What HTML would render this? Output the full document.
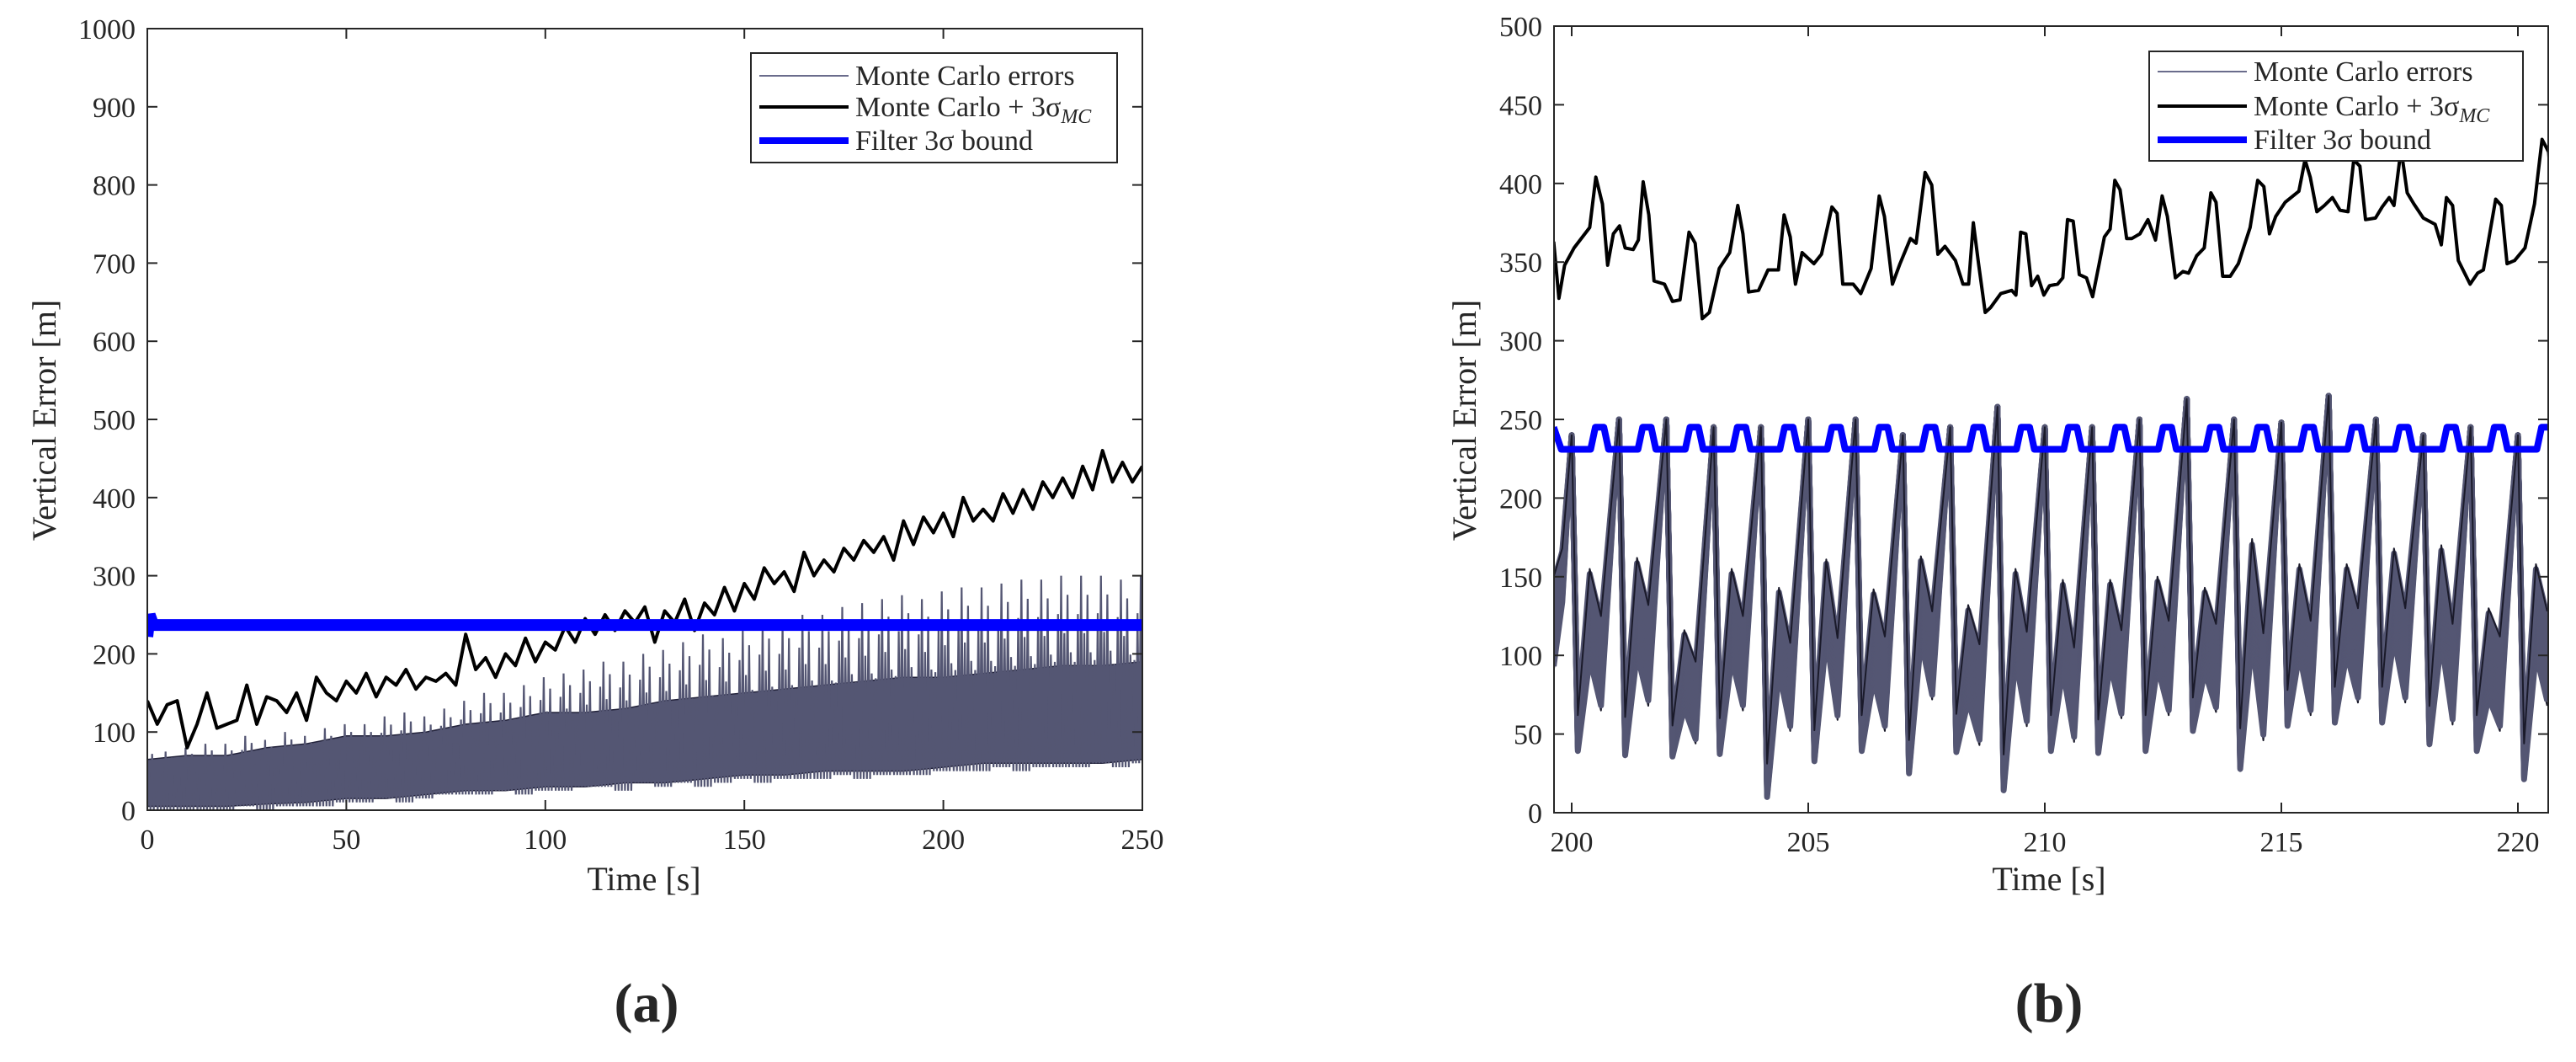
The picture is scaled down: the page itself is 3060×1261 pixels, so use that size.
<!DOCTYPE html>
<html><head><meta charset="utf-8">
<style>
html,body{margin:0;padding:0;background:#fff;}
svg{display:block;}
text{font-family:"Liberation Serif",serif;fill:#262626;}
</style></head>
<body>
<svg id="fig" width="3060" height="1261" viewBox="0 0 3060 1261" xmlns="http://www.w3.org/2000/svg">
<g id="pa"></g>
<g id="pb"></g>
<text x="768" y="1213" font-size="66" font-weight="bold" text-anchor="middle">(a)</text>
<text x="2434" y="1213" font-size="66" font-weight="bold" text-anchor="middle">(b)</text>
</svg>
<script>
// ---------- Panel A data ----------
const aTicksX = [0,50,100,150,200,250];
const aTicksY = [0,100,200,300,400,500,600,700,800,900,1000];
const aBlackT = [0,2.5,5,7.5,10,12.5,15,17.5,20,22.5,25,27.5,30,32.5,35,37.5,40,42.5,45,47.5,50,52.5,55,57.5,60,62.5,65,67.5,70,72.5,75,77.5,80,82.5,85,87.5,90,92.5,95,97.5,100,102.5,105,107.5,110,112.5,115,117.5,120,122.5,125,127.5,130,132.5,135,137.5,140,142.5,145,147.5,150,152.5,155,157.5,160,162.5,165,167.5,170,172.5,175,177.5,180,182.5,185,187.5,190,192.5,195,197.5,200,202.5,205,207.5,210,212.5,215,217.5,220,222.5,225,227.5,230,232.5,235,237.5,240,242.5,245,247.5,250];
const aBlackV = [140,110,135,140,80,110,150,105,110,115,160,110,145,140,125,150,115,170,150,140,165,150,175,145,170,160,180,155,170,165,175,160,225,180,195,170,200,185,220,190,215,205,235,215,245,225,250,230,255,240,260,215,255,240,270,230,265,250,285,255,290,270,310,290,305,280,330,300,320,305,335,320,345,330,350,320,370,340,375,355,380,350,400,370,385,370,405,380,410,385,420,400,425,400,440,410,460,420,445,420,440];
const aBandT = [0,10,20,30,40,50,60,70,80,90,100,110,120,130,140,150,160,170,180,190,200,210,220,230,240,250];
const aBandLow = [5,5,5,8,10,15,15,20,25,25,30,30,35,35,40,45,45,50,50,50,55,60,60,60,60,65];
const aBandHigh = [65,70,70,80,85,95,95,100,110,115,125,125,130,140,145,150,155,160,165,170,170,175,180,185,185,190];
const aSpikeT = [0,5,10,15,20,25,30,35,40,45,50,55,60,65,70,75,80,85,90,95,100,105,110,115,120,125,130,135,140,145,150,155,160,165,170,175,180,185,190,195,200,205,210,215,220,225,230,235,240,245,250];
const aSpikeV = [80,75,80,85,85,95,90,100,95,105,110,110,120,125,120,130,140,150,150,160,170,175,180,190,190,200,205,215,225,220,230,240,240,250,250,260,265,270,275,270,280,285,285,290,295,295,300,300,300,295,300];
const aDipV = [0,0,0,0,0,5,0,5,5,5,10,10,15,10,15,20,20,20,25,20,25,25,30,30,25,35,30,35,30,35,40,35,40,40,40,45,40,45,45,45,50,50,50,55,50,55,55,55,60,55,60];
const aBlueT = [0,0.6,1.5,250];
const aBlueV = [222,250,237,237];

// ---------- Panel B data ----------
const bTicksX = [200,205,210,215,220];
const bTicksY = [0,50,100,150,200,250,300,350,400,450,500];
const bBlackT = [199.62,199.73,199.85,200.05,200.38,200.51,200.65,200.76,200.88,201.01,201.13,201.30,201.41,201.51,201.63,201.74,201.96,202.13,202.29,202.48,202.61,202.76,202.91,203.12,203.34,203.51,203.62,203.74,203.95,204.15,204.37,204.49,204.62,204.73,204.87,205.12,205.28,205.50,205.61,205.73,205.95,206.11,206.33,206.50,206.61,206.78,206.94,207.16,207.28,207.47,207.61,207.74,207.89,208.11,208.27,208.39,208.49,208.60,208.74,208.85,209.07,209.30,209.39,209.49,209.60,209.72,209.85,209.98,210.10,210.27,210.38,210.48,210.60,210.73,210.88,211.01,211.15,211.26,211.38,211.48,211.59,211.73,211.84,212.01,212.18,212.34,212.48,212.59,212.76,212.92,213.04,213.21,213.37,213.51,213.62,213.76,213.92,214.09,214.34,214.50,214.63,214.75,214.88,215.08,215.37,215.50,215.61,215.75,215.91,216.08,216.24,216.41,216.53,216.66,216.78,216.99,217.13,217.28,217.38,217.53,217.66,217.80,218.00,218.25,218.38,218.49,218.62,218.74,218.99,219.15,219.27,219.53,219.65,219.77,219.93,220.15,220.35,220.51,220.65,220.70];
const bBlackV = [363,327,348,359,372,404,387,348,368,373,359,358,364,401,380,338,336,325,326,369,362,314,318,346,356,386,368,331,332,345,345,380,366,336,356,349,355,385,381,336,336,330,346,392,379,336,349,365,362,407,399,355,360,351,336,336,375,349,318,321,330,332,329,369,368,335,341,329,335,336,340,377,376,342,340,328,349,366,371,402,396,365,365,368,377,364,392,379,340,344,343,354,359,394,388,341,341,349,372,402,398,368,379,388,395,415,404,382,386,391,383,382,415,411,377,378,385,391,386,422,394,387,378,374,361,391,386,351,336,343,345,390,386,349,351,359,387,428,420,400];
const bBumpC = [200.6,201.6,202.6,203.6,204.6,205.6,206.6,207.6,208.6,209.6,210.6,211.6,212.6,213.6,214.6,215.6,216.6,217.6,218.6,219.6,220.6];
const bBlueBase = 231;
const bBluePeak = 245;
const bSpikeT = [200,201,202,203,204,205,206,207,208,209,210,211,212,213,214,215,216,217,218,219,220];
const bSpikeV = [240,250,250,245,245,250,250,240,245,258,245,245,250,263,250,248,265,250,240,245,240];
const bLowV = [50,48,45,48,20,42,50,35,50,25,50,48,50,62,40,66,68,68,55,50,32];
const bHighV = [125,130,90,125,115,135,112,135,100,125,118,120,120,115,140,128,128,138,138,100,128];
const bDipV = [95,100,70,95,80,85,82,100,75,85,75,88,92,92,80,92,100,100,88,82,98];
const bSpread = [30,32,26,30,28,26,30,28,32,30,30,28,30,28,34,30,30,30,32,30,30];

const NS = 'http://www.w3.org/2000/svg';
function mk(parent, tag, attrs){
  const e = document.createElementNS(NS, tag);
  for (const k in attrs) e.setAttribute(k, attrs[k]);
  parent.appendChild(e);
  return e;
}
function pts(T, V, sx, sy){ return T.map((t,i)=>sx(t).toFixed(1)+','+sy(V[i]).toFixed(1)).join(' '); }

function axes(g, L, R, T, B, sx, sy, xt, yt, name){
  const box = mk(g,'rect',{x:L,y:T,width:R-L,height:B-T,fill:'none',stroke:'#262626','stroke-width':2});
  
  
  xt.forEach(v=>{
    const x = sx(v);
    mk(g,'line',{x1:x,y1:B,x2:x,y2:B-12,stroke:'#262626','stroke-width':2});
    mk(g,'line',{x1:x,y1:T,x2:x,y2:T+12,stroke:'#262626','stroke-width':2});
    const t = mk(g,'text',{x:x,y:B+46,'font-size':34,'text-anchor':'middle'});
    t.textContent = v;
    
    
  });
  yt.forEach(v=>{
    const y = sy(v);
    mk(g,'line',{x1:L,y1:y,x2:L+12,y2:y,stroke:'#262626','stroke-width':2});
    mk(g,'line',{x1:R,y1:y,x2:R-12,y2:y,stroke:'#262626','stroke-width':2});
    const t = mk(g,'text',{x:L-14,y:y+12,'font-size':34,'text-anchor':'end'});
    t.textContent = v;
    
    
  });
}
function legend(g, x0, y0, w, h, rows, name){
  const lg = mk(g,'g',{});
  
  
  mk(lg,'rect',{x:x0,y:y0,width:w,height:h,fill:'#fff',stroke:'#262626','stroke-width':2});
  const items = [
    {label:'Monte Carlo errors', c:'#6a6c8c', w:2, sub:false},
    {label:'Monte Carlo + 3σ', c:'#000', w:4, sub:true},
    {label:'Filter 3σ bound', c:'#0000ff', w:8, sub:false}
  ];
  items.forEach((it,i)=>{
    const y = rows[i];
    const ln = mk(lg,'line',{x1:x0+10,y1:y,x2:x0+116,y2:y,stroke:it.c,'stroke-width':it.w});
    
    
    const t = mk(lg,'text',{x:x0+124,y:y+11,'font-size':34});
    t.textContent = it.label;
    if (it.sub){
      const s = document.createElementNS(NS,'tspan');
      s.setAttribute('font-size','24'); s.setAttribute('font-style','italic'); s.setAttribute('dy','8');
      s.textContent = 'MC';
      t.appendChild(s);
    }
    
    
  });
}

// ---------- Panel A ----------
(function(){
  const g = document.getElementById('pa');
  const L=175,R=1357,T=34,B=962;
  const sx = t => L + (t-0)/(250-0)*(R-L);
  const sy = v => B - v/1000*(B-T);
  const clip = mk(g,'clipPath',{id:'ca'});
  mk(clip,'rect',{x:L,y:T,width:R-L,height:B-T});
  const dg = mk(g,'g',{'clip-path':'url(#ca)'});
  const band = mk(dg,'polygon',{points: pts(aBandT,aBandHigh,sx,sy)+' '+pts(aBandT.slice().reverse(),aBandLow.slice().reverse(),sx,sy), fill:'#545673', stroke:'#22223a','stroke-width':1.5});
  
  
  // dense zigzag of spikes: up to peak, down to dip, at sub-steps between samples
  const zz = [];
  const offs = [-2.0,-1.2,-0.4,0.4,1.2,2.0];
  const fr = [0.55,0.8,1.0,0.7,0.9,0.6];
  aSpikeT.forEach((t,i)=>{
    offs.forEach((o,j)=>{
      const hi = aDipV[i] + (aSpikeV[i]-aDipV[i])*fr[j];
      zz.push(sx(t+o-0.4).toFixed(1)+','+sy(aDipV[i]).toFixed(1));
      zz.push(sx(t+o).toFixed(1)+','+sy(hi).toFixed(1));
    });
  });
  const sp = mk(dg,'polyline',{points: zz.join(' '), fill:'none', stroke:'#545673','stroke-width':2.2,'stroke-linejoin':'miter'});
  
  
  const bl = mk(dg,'polyline',{points:pts(aBlackT,aBlackV,sx,sy),fill:'none',stroke:'#000','stroke-width':4,'stroke-linejoin':'round'});
  
  
  const bu = mk(dg,'polyline',{points:pts(aBlueT,aBlueV,sx,sy),fill:'none',stroke:'#0000ff','stroke-width':14});
  
  
  axes(g,L,R,T,B,sx,sy,aTicksX,aTicksY,'a');
  legend(g,892,63,435,130,[90,127,167],'a');
  const xl = mk(g,'text',{x:765,y:1057,'font-size':40,'text-anchor':'middle'});
  xl.textContent='Time [s]';
   
  const yl = mk(g,'text',{x:0,y:0,'font-size':40,'text-anchor':'middle',transform:'translate(66,499) rotate(-90)'});
  yl.textContent='Vertical Error [m]';
   
})();

// ---------- Panel B ----------
(function(){
  const g = document.getElementById('pb');
  const L=1846,R=3027,T=31,B=965;
  const sx = t => 1867 + (t-200)*56.2;
  const sy = v => B - v/500*(B-T);
  const clip = mk(g,'clipPath',{id:'cb'});
  mk(clip,'rect',{x:L,y:T,width:R-L,height:B-T});
  const dg = mk(g,'g',{'clip-path':'url(#cb)'});
  const N = 20;
  function lineAt(f){
    const T0=[199.62], V0=[120+f*bSpread[0]];
    T0.push(199.8); V0.push(150+f*bSpread[0]*0.6);
    for (let k=0;k<bSpikeT.length;k++){
      const t=bSpikeT[k];
      T0.push(t); V0.push(bSpikeV[k]);
      T0.push(t+0.13); V0.push(bLowV[k]+f*bSpread[k]*0.4);
      T0.push(t+0.38); V0.push(bHighV[k]+f*bSpread[k]);
      T0.push(t+0.62); V0.push(bDipV[k]+f*bSpread[k]);
    }
    return [T0,V0];
  }
  const mcg = mk(dg,'g',{});
  
  
  for (let i=0;i<N;i++){
    const f = -1 + 2*i/(N-1);
    const [T0,V0] = lineAt(f);
    const edge = (i===0||i===N-1);
    const pl = mk(mcg,'polyline',{points:pts(T0,V0,sx,sy),fill:'none',stroke: edge?'#1a1a2a':'#545673','stroke-width': edge?2:7,'stroke-linejoin':'round'});
    
    
  }
  const bl = mk(dg,'polyline',{points:pts(bBlackT,bBlackV,sx,sy),fill:'none',stroke:'#000','stroke-width':4,'stroke-linejoin':'round'});
  
  
  const BT=[199.62], BV=[245];
  BT.push(199.78); BV.push(bBlueBase);
  bBumpC.forEach(c=>{ BT.push(c-0.2,c-0.1,c+0.08,c+0.18); BV.push(bBlueBase,bBluePeak,bBluePeak,bBlueBase); });
  const bu = mk(dg,'polyline',{points:pts(BT,BV,sx,sy),fill:'none',stroke:'#0000ff','stroke-width':8,'stroke-linejoin':'round'});
  
  
  axes(g,L,R,T,B,sx,sy,bTicksX,bTicksY,'b');
  legend(g,2553,61,444,130,[85,126,166],'b');
  const xl = mk(g,'text',{x:2434,y:1057,'font-size':40,'text-anchor':'middle'});
  xl.textContent='Time [s]';
   
  const yl = mk(g,'text',{x:0,y:0,'font-size':40,'text-anchor':'middle',transform:'translate(1753,499) rotate(-90)'});
  yl.textContent='Vertical Error [m]';
   
})();
</script>
</body></html>
